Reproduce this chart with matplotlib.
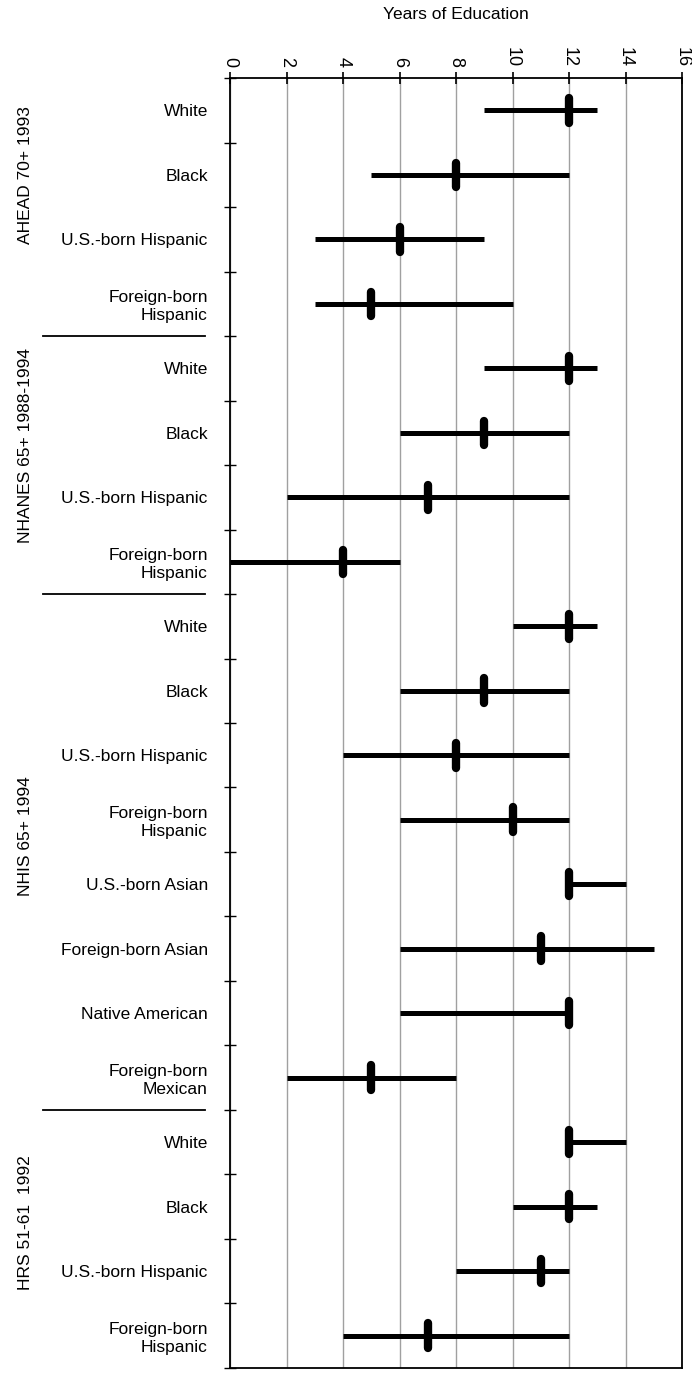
import matplotlib
matplotlib.use("Agg")
import matplotlib.pyplot as plt
import matplotlib.transforms as mtransforms

plt.rcParams["font.family"] = ["Liberation Sans", "DejaVu Sans"]

# survey groups, top to bottom
groups = ["AHEAD 70+ 1993", "NHANES 65+ 1988-1994", "NHIS 65+ 1994", "HRS 51-61  1992"]
group_sizes = [4, 4, 8, 4]

categories = [
    "White", "Black", "U.S.-born Hispanic", "Foreign-born\nHispanic",
    "White", "Black", "U.S.-born Hispanic", "Foreign-born\nHispanic",
    "White", "Black", "U.S.-born Hispanic", "Foreign-born\nHispanic",
    "U.S.-born Asian", "Foreign-born Asian", "Native American", "Foreign-born\nMexican",
    "White", "Black", "U.S.-born Hispanic", "Foreign-born\nHispanic",
]
low = [9, 5, 3, 3,
       9, 6, 2, 0,
       10, 6, 4, 6, 12, 6, 6, 2,
       12, 10, 8, 4]
high = [13, 12, 9, 10,
        13, 12, 12, 6,
        13, 12, 12, 12, 14, 15, 12, 8,
        14, 13, 12, 12]
median = [12, 8, 6, 5,
          12, 9, 7, 4,
          12, 9, 8, 10, 12, 11, 12, 5,
          12, 12, 11, 7]

n = len(categories)
rows = [i + 0.5 for i in range(n)]

fig = plt.figure(figsize=(6.92, 13.74), dpi=100)
ax = fig.add_axes([0.3324, 0.0044, 0.6532, 0.9388])

ax.hlines(rows, low, high, color="black", linewidth=3.6, zorder=3)
ax.vlines(median, [r - 0.19 for r in rows], [r + 0.19 for r in rows],
          color="black", linewidth=6, capstyle="round", zorder=4)

ax.set_xlim(0, 16)
ax.set_ylim(n, 0)
ax.set_xticks(range(0, 17, 2))
ax.xaxis.tick_top()
ax.xaxis.set_label_position("top")
ax.set_xlabel("Years of Education", fontsize=12.5, labelpad=20)
ax.tick_params(axis="x", direction="inout", length=8, width=1.2, labelsize=13,
               labelrotation=-90, pad=4)
ax.grid(axis="x", color="#a0a0a0", linewidth=1.0)
ax.set_axisbelow(True)

ax.set_yticks(range(n + 1))
ax.set_yticklabels([])
ax.set_yticks(rows, minor=True)
ax.set_yticklabels(categories, minor=True, fontsize=12.5)
ax.tick_params(axis="y", which="major", direction="inout", length=8, width=1.0)
ax.tick_params(axis="y", which="minor", length=0, pad=16)

for s in ax.spines.values():
    s.set_linewidth(1.3)

# group separators and group titles in the left margin
trans = mtransforms.blended_transform_factory(ax.transAxes, ax.transData)
title_rows = [1.5, 5.7, 11.75, 17.75]
start = 0
for g, size, ty in zip(groups, group_sizes, title_rows):
    ax.text(-0.453, ty, g, rotation=90, fontsize=12.5,
            ha="center", va="center", transform=trans)
    start += size
    if start < n:
        ax.plot([-0.413, -0.055], [start, start], color="black", linewidth=1.3,
                transform=trans, clip_on=False)

fig.savefig("out.png", dpi=100)
